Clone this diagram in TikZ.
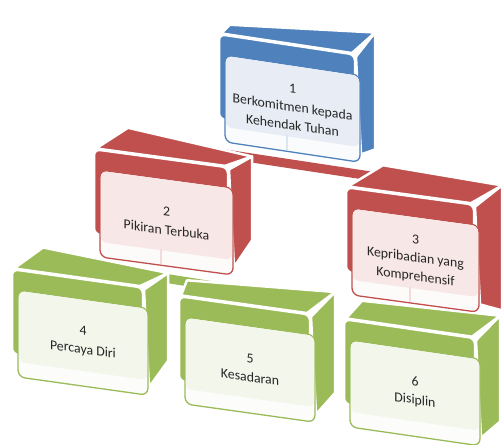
\documentclass[tikz,border=0pt]{standalone}
\usepackage{fontspec}
\setmainfont{Carlito}
\definecolor{cblue}{HTML}{4F81BD}
\definecolor{cred}{HTML}{C0504D}
\definecolor{cgreen}{HTML}{9BBB59}
\definecolor{tblue}{HTML}{E8EDF5}
\definecolor{tred}{HTML}{F8E7E7}
\definecolor{tgreen}{HTML}{F2F6EB}
\tikzset{
  face/.style={fill=#1, draw=white, line width=2.5pt, line join=round},
  panelbox/.style={draw=#1, line width=1.3pt, fill=white!97!#1},
  boxtext/.style={font=\fontsize{13.8}{18.5}\selectfont, text=black!85, align=center, transform shape, inner sep=1pt},
  band/.style={draw=#1, line width=9pt},
  faint/.style={draw=#1!20, line width=2pt}
}
% #1 name, #2 position, #3 slant, #4 colour, #5 tint, #6 text
\newcommand{\cubebox}[6]{%
  \begin{scope}[shift={#2}, yslant=-#3]
    \path[face=#4] (-4,-21) -- (\bw-8,-21) -- (\BRx,\BRy) -- (\BLx,\BLy) -- cycle;
    \path[face=#4] (\bw-4,-18) -- (\BRx,\BRy) -- (\BRx,\SB) -- (\bw+1,\bh-8) -- cycle;
    \path[face=#4, rounded corners=6] (-6,-20) rectangle (\bw-5,\bh-22);
    \path[panelbox=#4, rounded corners=7] (0,0) rectangle (\bw,\bh);
    \path[fill=#5, rounded corners=6] (0.8,0.8) rectangle (\bw-0.8,\bh-15);
    \node[boxtext] (#1) at (\bw/2,42) {#6};
    \coordinate (#1-top) at (\bw/2,-34);
    \coordinate (#1-bot) at (0.46*\bw,\bh-1);
    \coordinate (#1-low) at (0.46*\bw,\bh-16);
  \end{scope}}
\begin{document}
\begin{tikzpicture}[x=1pt, y=-1pt]
  \useasboundingbox (0,0) rectangle (504,445);
  \clip (0,0) rectangle (504,445);
  \fill[white] (0,0) rectangle (504,445);
  % connectors behind the boxes
  \coordinate (g45) at (83,265);
  \coordinate (g55) at (251,292);
  \coordinate (r22) at (166,145);
  \coordinate (r33) at (417,183);
  \draw[band=cgreen] (g45) -- (g55);
  \draw[band=cred] (r22) -- (r33);
  % third row
  \def\bw{130}\def\bh{87}\def\BLx{25}\def\BLy{-46}\def\BRx{150}\def\BRy{-38}\def\SB{50}
  \cubebox{b4}{(18,290)}{0.14}{cgreen}{tgreen}{4\\Percaya Diri}
  \def\bw{130}\def\bh{87}\def\BLx{2}\def\BLy{-37}\def\BRx{150}\def\BRy{-46}\def\SB{55}
  \cubebox{b5}{(185,317)}{0.14}{cgreen}{tgreen}{5\\Kesadaran}
  \def\bw{130}\def\bh{87}\def\BLx{12}\def\BLy{-41}\def\BRx{150}\def\BRy{-46}\def\SB{60}
  \cubebox{b6}{(350,340)}{0.145}{cgreen}{tgreen}{6\\Disiplin}
  % second row
  \def\bw{133}\def\bh{87}\def\BLx{28}\def\BLy{-46}\def\BRx{152}\def\BRy{-34}\def\SB{50}
  \cubebox{b2}{(100,170)}{0.135}{cred}{tred}{2\\Pikiran Terbuka}
  \def\bw{127}\def\bh{87}\def\BLx{31}\def\BLy{-47}\def\BRx{150}\def\BRy{-43}\def\SB{82}
  \cubebox{b3}{(352,208)}{0.136}{cred}{tred}{3\\Kepribadian yang\\Komprehensif}
  % first row
  \def\bw{135}\def\bh{87}\def\BLx{5}\def\BLy{-31}\def\BRx{150}\def\BRy{-45}\def\SB{72}
  \cubebox{b1}{(225,55)}{0.15}{cblue}{tblue}{1\\Berkomitmen kepada\\Kehendak Tuhan}
  % connectors seen through the panels
  \draw[faint=cblue] (b1-low) -- (b1-bot);
  \draw[faint=cred] (b2-low) -- (b2-bot);
  \draw[faint=cred] (b3-low) -- (b3-bot);
\end{tikzpicture}
\end{document}
